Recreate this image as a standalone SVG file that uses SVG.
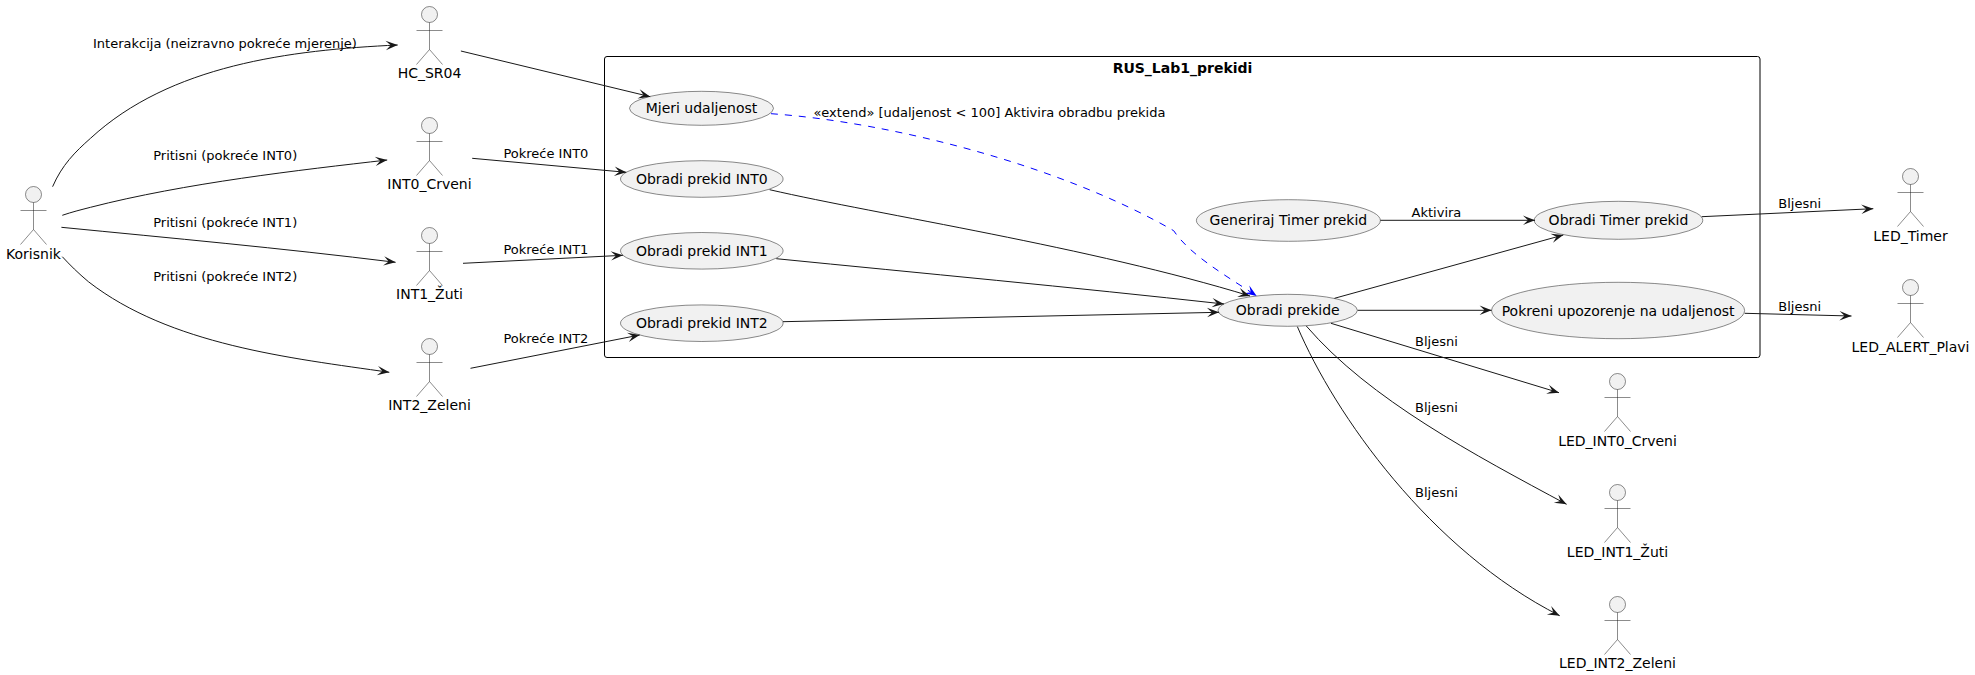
<svg xmlns="http://www.w3.org/2000/svg" width="1975" height="675" viewBox="0 0 1975 675">
<style>
text{font-family:"DejaVu Sans",sans-serif;fill:#000}
.n{font-size:14px;text-anchor:middle}
.e{font-size:13px}
.t{font-size:14px;font-weight:bold;text-anchor:middle}
.u{fill:#f1f1f1;stroke:#181818;stroke-width:.5}
.a{fill:none;stroke:#181818;stroke-width:.5}
.c{fill:none;stroke:#181818;stroke-width:1;marker-end:url(#h)}
.d{fill:none;stroke:#0000ff;stroke-width:1;stroke-dasharray:7 7;marker-end:url(#b)}
</style>
<defs>
<marker id="h" markerUnits="userSpaceOnUse" markerWidth="16" markerHeight="14" refX="14" refY="7" orient="auto"><path d="M14,7L2,2.3L7,7L2,11.7Z" fill="#181818"/></marker>
<marker id="b" markerUnits="userSpaceOnUse" markerWidth="16" markerHeight="14" refX="14" refY="7" orient="auto"><path d="M14,7L2,2.3L7,7L2,11.7Z" fill="#0000ff"/></marker>
<g id="fig"><circle class="u" cx="0" cy="0" r="8"/><path class="a" d="M0,8V35M-13,16H13M0,35L-13,50M0,35L13,50"/></g>
</defs>
<rect x="0" y="0" width="1975" height="675" fill="#fff"/>
<g id="RUS_Lab1_prekidi"><rect x="604.5" y="56.5" width="1155.5" height="301" rx="2.5" fill="none" stroke="#000"/><text class="t" x="1182.5" y="72.5">RUS_Lab1_prekidi</text></g>
<g id="Korisnik"><use href="#fig" x="33.5" y="194.5"/><text class="n" x="33.5" y="258.7">Korisnik</text></g>
<g id="HC_SR04"><use href="#fig" x="429.5" y="14.5"/><text class="n" x="429.5" y="78">HC_SR04</text></g>
<g id="INT0_Crveni"><use href="#fig" x="429.5" y="125.5"/><text class="n" x="429.5" y="188.5">INT0_Crveni</text></g>
<g id="INT1_Zuti"><use href="#fig" x="429.5" y="235.5"/><text class="n" x="429.5" y="299">INT1_Žuti</text></g>
<g id="INT2_Zeleni"><use href="#fig" x="429.5" y="346.5"/><text class="n" x="429.5" y="410">INT2_Zeleni</text></g>
<g id="LED_Timer"><use href="#fig" x="1910.5" y="176.5"/><text class="n" x="1910.5" y="241">LED_Timer</text></g>
<g id="LED_ALERT_Plavi"><use href="#fig" x="1910.5" y="287.5"/><text class="n" x="1910.5" y="351.5">LED_ALERT_Plavi</text></g>
<g id="LED_INT0_Crveni"><use href="#fig" x="1617.5" y="381.5"/><text class="n" x="1617.5" y="445.5">LED_INT0_Crveni</text></g>
<g id="LED_INT1_Zuti"><use href="#fig" x="1617.5" y="492.5"/><text class="n" x="1617.5" y="556.5">LED_INT1_Žuti</text></g>
<g id="LED_INT2_Zeleni"><use href="#fig" x="1617.5" y="604.5"/><text class="n" x="1617.5" y="667.5">LED_INT2_Zeleni</text></g>
<g id="Mjeri_udaljenost"><ellipse class="u" cx="701.5" cy="108.3" rx="72" ry="17"/><text class="n" x="701.5" y="113.3">Mjeri udaljenost</text></g>
<g id="Obradi_prekid_INT0"><ellipse class="u" cx="701.8" cy="179" rx="81.3" ry="18.3"/><text class="n" x="701.8" y="183.5">Obradi prekid INT0</text></g>
<g id="Obradi_prekid_INT1"><ellipse class="u" cx="701.8" cy="250.8" rx="81.3" ry="18.3"/><text class="n" x="701.8" y="255.5">Obradi prekid INT1</text></g>
<g id="Obradi_prekid_INT2"><ellipse class="u" cx="701.8" cy="323.2" rx="81.3" ry="18.3"/><text class="n" x="701.8" y="327.7">Obradi prekid INT2</text></g>
<g id="Generiraj_Timer_prekid"><ellipse class="u" cx="1288.4" cy="220.5" rx="92" ry="20.8"/><text class="n" x="1288.4" y="225.3">Generiraj Timer prekid</text></g>
<g id="Obradi_Timer_prekid"><ellipse class="u" cx="1618.5" cy="220.3" rx="84.3" ry="19"/><text class="n" x="1618.5" y="225.3">Obradi Timer prekid</text></g>
<g id="Obradi_prekide"><ellipse class="u" cx="1287.7" cy="310.3" rx="69.7" ry="16"/><text class="n" x="1287.7" y="315.2">Obradi prekide</text></g>
<g id="Pokreni_upozorenje"><ellipse class="u" cx="1618.1" cy="310.5" rx="126.5" ry="28.2"/><text class="n" x="1618.1" y="315.5">Pokreni upozorenje na udaljenost</text></g>
<g id="connectors">
<path class="c" d="M52.6,186.7C62,165 75,152 90.5,138.3C170,65 290,50 397.7,45"/>
<path class="c" d="M62.3,215.3C72,212 80,210 90.5,207.3C185,183 300,170 387.2,160"/>
<path class="c" d="M61.4,227.3C170,238 280,248 395.6,262.3"/>
<path class="c" d="M62.3,256.7C70,265 78,273 88.4,281.7C170,345 290,358 389.3,372.3"/>
<path class="c" d="M460.9,51L650.3,96.7"/>
<path class="c" d="M472.2,158.3L626.3,172.3"/>
<path class="c" d="M463,263.3L622.9,255.3"/>
<path class="c" d="M470.5,368.3L639.7,335"/>
<path class="d" d="M771,113.7C890,122 1060,165 1173.7,230.7C1190,255 1225,275 1256.7,296"/>
<path class="c" d="M769.6,189.7C880,215 1090,247 1250,296"/>
<path class="c" d="M776.3,258.7C920,273 1070,287 1224,304"/>
<path class="c" d="M783,321.7L1219,312.3"/>
<path class="c" d="M1380.4,220.3L1535,220.3"/>
<path class="c" d="M1334.5,298.3L1563.3,235"/>
<path class="c" d="M1357.7,310.3L1491.6,310.3"/>
<path class="c" d="M1701.7,216.7L1873.3,208.7"/>
<path class="c" d="M1744.7,313.3L1851.5,316"/>
<path class="c" d="M1331,323.3L1559,392.7"/>
<path class="c" d="M1306.3,326C1370,400 1475,455 1566.6,504.3"/>
<path class="c" d="M1297.4,326.7C1335,415 1430,550 1559.7,615.7"/>
</g>
<g id="labels">
<text class="e" x="93" y="47.7">Interakcija (neizravno pokreće mjerenje)</text>
<text class="e" x="153.2" y="160.3">Pritisni (pokreće INT0)</text>
<text class="e" x="153.2" y="227">Pritisni (pokreće INT1)</text>
<text class="e" x="153.2" y="280.7">Pritisni (pokreće INT2)</text>
<text class="e" x="503.4" y="158.3">Pokreće INT0</text>
<text class="e" x="503.4" y="254">Pokreće INT1</text>
<text class="e" x="503.4" y="343.3">Pokreće INT2</text>
<text class="e" x="813.4" y="116.7">«extend» [udaljenost &lt; 100] Aktivira obradbu prekida</text>
<text class="e" x="1411.6" y="217">Aktivira</text>
<text class="e" x="1778.3" y="208.3">Bljesni</text>
<text class="e" x="1778.3" y="311">Bljesni</text>
<text class="e" x="1415" y="346">Bljesni</text>
<text class="e" x="1415" y="412">Bljesni</text>
<text class="e" x="1415" y="497">Bljesni</text>
</g>
</svg>
